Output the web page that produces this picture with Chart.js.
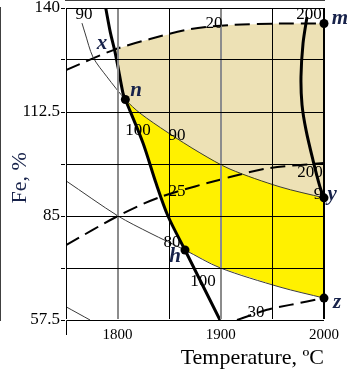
<!DOCTYPE html>
<html>
<head>
<meta charset="utf-8">
<script src="https://cdn.jsdelivr.net/npm/chart.js@4.4.1/dist/chart.umd.min.js"></script>
<style>
html, body { margin: 0; padding: 0; background: #fff; }
</style>
</head>
<body>
<canvas id="chart" width="363" height="380"></canvas>
<script>
// [temperature, Fe %] pairs
const curve100 = [[1788.5,140],[1793,133.5],[1797,129],[1800.4,124.4],[1805.2,117.5],[1807.5,115.8],[1824.6,104.3],[1837.2,93.7],[1848.8,85.0],[1865.3,76.0],[1899.2,57.5]];
const curve200 = [[1983.5,137.6],[1979.7,130.7],[1977.7,121.8],[1978.7,114.4],[1982.6,107.7],[1989.3,99.8],[1996.1,92.7],[2000,89.8]];
const curve90 = [[1765.5,136.0],[1768.4,133.4],[1776.2,127.0],[1789.7,121.8],[1807.5,115.8],[1821.7,112.2],[1847.9,107.2],[1879.8,101.7],[1908.9,97.4],[1957.4,92.7],[2000,89.8]];
const curve80 = [[1750,94.3],[1800.4,85.0],[1831.4,80.5],[1865.3,76.0],[1899.2,71.3],[1957.4,66.2],[2000,63.3]];
const cornerLine = [[1750,61.0],[1773.3,57.5]];
const dash20 = [[1750,123.6],[1797,129],[1831.4,131.8],[1870.2,134.4],[1908.9,135.5],[1957.4,135.9],[2000,135.9]];
const dash25 = [[1750,77.3],[1800.4,85.0],[1841.1,90.0],[1908.9,95.3],[1947.7,97.7],[2000,99.0]];
const dash30 = [[1915.7,57.5],[1944.8,60.2],[1967.1,61.5],[2000,63.3]];

// marked points n, h, m, y, z
const pointX = [1807.5, 1865.3, 2000, 2000, 2000];
const pointY = [115.8, 76.0, 135.9, 89.8, 63.3];

// numbers written on the curves
const curveLabels = ['90','20','200','100','90','25','200','9','80','100','30'];
const curveLabelX = [1767.4,1893.4,1985.5,1819.8,1857.6,1857.6,1986.4,1994.2,1852.7,1882.8,1934.1];
const curveLabelY = [138.4,136.0,138.4,107.7,106.2,91.6,96.4,90.6,78.1,67.6,59.4];

// letters
const letters = ['x','n','m','y','h','z'];
const letterX = [1784.9,1817.8,2015.5,2007.8,1855.6,2012.6];
const letterY = [130.7,118.1,137.1,90.6,74.2,62.0];

const xTicks = [1800, 1900, 2000];
const yTicks = [57.5, 85, 112.5, 140];

const nX = pointX[0], nY = pointY[0], hX = pointX[1], hY = pointY[1];
const crossY = 129; // where curve 100 meets dashed 20

let yellow = [
	...curve90.filter(p => p[0] >= nX),
	...curve80.filter(p => p[0] >= hX).reverse(),
	...curve100.filter(p => p[1] >= hY && p[1] <= nY).reverse(),
];
let beige = [
	...dash20.filter(p => p[1] >= crossY),
	...curve90.filter(p => p[0] >= nX).reverse(),
	...curve100.filter(p => p[1] >= nY && p[1] <= crossY).reverse(),
];

function xy(arr) {
	return arr.map(p => ({ x: p[0], y: p[1] }));
}

const serif = '"Liberation Serif", "Times New Roman", serif';

function line(data, width, color, dash) {
	return {
		data: xy(data),
		showLine: true,
		borderColor: color,
		borderWidth: width,
		borderDash: dash || [],
		pointRadius: 0,
		tension: 0.3,
		fill: false,
	};
}

const labelPlugin = {
	id: 'curveLabels',
	afterDraw(chart) {
		const { ctx, chartArea, scales } = chart;
		ctx.save();
		ctx.beginPath();
		ctx.rect(chartArea.left, chartArea.top, chartArea.right - chartArea.left, chartArea.bottom - chartArea.top);
		ctx.clip();
		ctx.font = '17px ' + serif;
		ctx.fillStyle = '#000';
		ctx.textAlign = 'center';
		ctx.textBaseline = 'middle';
		for (let i = 0; i < curveLabels.length; i++) {
			ctx.fillText(curveLabels[i], scales.x.getPixelForValue(curveLabelX[i]), scales.y.getPixelForValue(curveLabelY[i]));
		}
		ctx.restore();
		ctx.save();
		ctx.font = 'italic bold 21px ' + serif;
		ctx.fillStyle = '#17224a';
		ctx.textAlign = 'center';
		ctx.textBaseline = 'middle';
		for (let i = 0; i < letters.length; i++) {
			ctx.fillText(letters[i], scales.x.getPixelForValue(letterX[i]), scales.y.getPixelForValue(letterY[i]));
		}
		ctx.restore();
	},
};

new Chart('chart', {
	type: 'scatter',
	data: {
		datasets: [
			{
				data: pointX.map((v, i) => ({ x: v, y: pointY[i] })),
				pointRadius: 4.5,
				pointBackgroundColor: '#000',
				pointBorderWidth: 0,
				showLine: false,
				clip: false,
			},
			line(curve100, 3, '#000'),
			line(curve200, 3, '#000'),
			line(curve90, 1, '#3a3a3a'),
			line(curve80, 1, '#3a3a3a'),
			line(cornerLine, 1, '#3a3a3a'),
			line(dash20, 2, '#000', [15, 7]),
			line(dash25, 2, '#000', [15, 7]),
			line(dash30, 2, '#000', [15, 7]),
			{
				data: xy(yellow),
				showLine: true,
				borderWidth: 0,
				pointRadius: 0,
				tension: 0,
				backgroundColor: '#FFF100',
				fill: 'shape',
			},
			{
				data: xy(beige),
				showLine: true,
				borderWidth: 0,
				pointRadius: 0,
				tension: 0,
				backgroundColor: '#EDE1B5',
				fill: 'shape',
			},
		],
	},
	options: {
		responsive: false,
		animation: false,
		layout: { padding: { top: 8, right: 39, left: 0, bottom: 0 } },
		plugins: { legend: { display: false }, tooltip: { enabled: false } },
		scales: {
			x: {
				type: 'linear',
				min: 1750,
				max: 2000,
				afterFit(s) { s.height = 60; s.paddingLeft = 0; s.paddingRight = 0; },
				ticks: {
					stepSize: 50,
					padding: -9,
					color: '#000',
					font: { family: serif, size: 15 },
					maxRotation: 0,
					callback: v => (xTicks.includes(v) ? String(v) : ''),
				},
				grid: {
					z: 1,
					tickLength: 15,
					color: c => (c.tick && (c.tick.value === 1800 || c.tick.value === 1900) ? '#8c8c8c' : '#000'),
					lineWidth: c => (c.tick && [1800, 1900, 2000].includes(c.tick.value) ? 2 : 1),
					tickColor: c => (c.tick && c.tick.value === 1750 ? '#000' : 'rgba(0,0,0,0)'),
				},
				border: { color: '#000', width: 1.5 },
				title: {
					display: true,
					text: 'Temperature, ºC',
					align: 'end',
					color: '#000',
					font: { family: serif, size: 22 },
					padding: { top: 0, bottom: 9 },
				},
			},
			y: {
				min: 57.5,
				max: 140,
				afterFit(s) { s.width = 66; s.paddingTop = 0; s.paddingBottom = 0; },
				ticks: {
					stepSize: 13.75,
					padding: 1,
					color: '#000',
					font: { family: serif, size: 17 },
					callback: v => (yTicks.includes(v) ? String(v) : ''),
				},
				grid: {
					z: 1,
					tickLength: 5,
					color: '#000',
					lineWidth: 1,
					tickColor: '#000',
				},
				border: { color: '#000', width: 1.5 },
				title: {
					display: true,
					text: 'Fe, %     ',
					color: '#17224a',
					font: { family: serif, size: 22 },
					padding: { top: 7, bottom: 0 },
				},
			},
		},
	},
	plugins: [labelPlugin],
});
</script>
</body>
</html>
